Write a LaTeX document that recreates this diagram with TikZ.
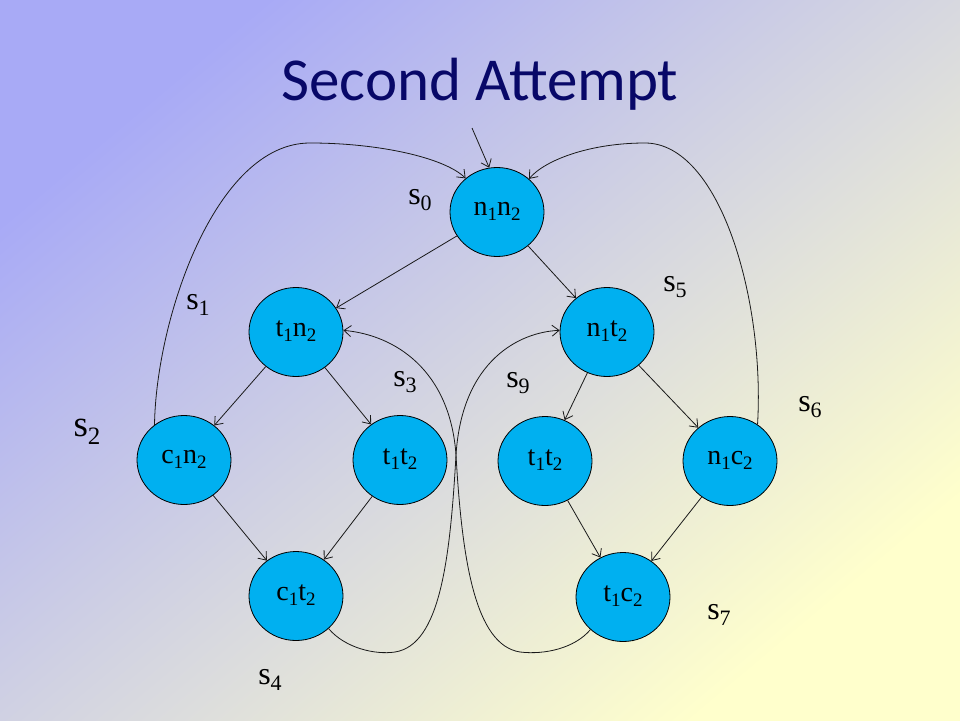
\documentclass[tikz,border=0pt]{standalone}
\usepackage{fontspec}
\setmainfont{Liberation Serif}
\newfontfamily\titlefont{Carlito}
\usetikzlibrary{shapes.geometric,arrows.meta}
\definecolor{bgA}{RGB}{168,170,246}
\definecolor{bgB}{RGB}{222,222,228}
\definecolor{bgC}{RGB}{255,255,204}
\definecolor{titlecol}{RGB}{8,8,104}
\definecolor{statefill}{RGB}{0,176,240}
\newcommand{\nsub}[1]{\raisebox{-5.5pt}{\fontsize{19}{19}\selectfont #1}}
\newcommand{\lsub}[1]{\raisebox{-6.5pt}{\fontsize{22}{22}\selectfont #1}}
\newcommand{\lsubb}[1]{\raisebox{-7.5pt}{\fontsize{25}{25}\selectfont #1}}
\tikzset{
  state/.style={ellipse, draw=black, line width=0.8pt, fill=statefill,
    minimum width=94pt, minimum height=89pt, inner sep=0pt,
    font=\fontsize{28}{28}\selectfont},
  slabel/.style={font=\fontsize{32}{32}\selectfont, inner sep=0pt},
  edge/.style={draw=black!90, line width=0.8pt,
    -{Straight Barb[length=7pt,width=11pt,line width=0.8pt]}},
}
\begin{document}
\begin{tikzpicture}[x=1pt,y=-1pt]
\shade[left color=bgA, middle color=bgB, right color=bgC, shading angle=40]
  (0,0) rectangle (960,720);
\useasboundingbox (0,0) rectangle (960,720);

\node[anchor=base, text=titlecol, font=\titlefont\fontsize{61}{61}\selectfont]
  (title) at (480,100) {Second Attempt};

\node[state] (n1n2) at (497,212) {\raisebox{7pt}{n\nsub{1}n\nsub{2}}};
\node[state] (t1n2) at (296,332) {\raisebox{7pt}{t\nsub{1}n\nsub{2}}};
\node[state] (n1t2) at (607,332) {\raisebox{7pt}{n\nsub{1}t\nsub{2}}};
\node[state] (c1n2) at (184,460) {\raisebox{7pt}{c\nsub{1}n\nsub{2}}};
\node[state] (t1t2L) at (400,460) {\raisebox{7pt}{t\nsub{1}t\nsub{2}}};
\node[state] (t1t2R) at (545,461) {\raisebox{7pt}{t\nsub{1}t\nsub{2}}};
\node[state] (n1c2) at (730,461) {\raisebox{7pt}{n\nsub{1}c\nsub{2}}};
\node[state] (c1t2) at (296,596) {\raisebox{7pt}{c\nsub{1}t\nsub{2}}};
\node[state] (t1c2) at (623,597) {\raisebox{7pt}{t\nsub{1}c\nsub{2}}};

\node[slabel] (s0) at (420,200) {s\lsub{0}};
\node[slabel] (s1) at (198,305) {s\lsub{1}};
\node[slabel, font=\fontsize{37}{37}\selectfont] (s2) at (87,432) {s\lsubb{2}};
\node[slabel] (s3) at (405,382) {s\lsub{3}};
\node[slabel] (s4) at (270,680) {s\lsub{4}};
\node[slabel] (s5) at (675,287) {s\lsub{5}};
\node[slabel] (s6) at (810,407) {s\lsub{6}};
\node[slabel] (s7) at (719,615) {s\lsub{7}};
\node[slabel] (s9) at (518,383) {s\lsub{9}};

\coordinate (init) at (472,128);
\draw[edge] (init) -- (n1n2.100);

\draw[edge] (n1n2) -- (t1n2);
\draw[edge] (n1n2) -- (n1t2);
\draw[edge] (t1n2) -- (c1n2);
\draw[edge] (t1n2) -- (t1t2L);
\draw[edge] (n1t2) -- (t1t2R);
\draw[edge] (n1t2) -- (n1c2);
\draw[edge] (c1n2) -- (c1t2);
\draw[edge] (t1t2L) -- (c1t2);
\draw[edge] (t1t2R) -- (t1c2);
\draw[edge] (n1c2) -- (t1c2);

\draw[edge] (c1n2.130) .. controls (156,320) and (215,143) .. (310,143)
  .. controls (380,143) and (445,158) .. (n1n2.133);
\draw[edge] (n1c2.53) .. controls (765,300) and (720,143) .. (645,143)
  .. controls (590,143) and (545,160) .. (n1n2.46);

\draw[edge] (c1t2.-45) .. controls (345,648) and (375,655) .. (395,652)
  .. controls (440,645) and (450,560) .. (456,455)
  .. controls (462,360) and (520,332) .. (n1t2.178);
\draw[edge] (t1c2.225) .. controls (575,648) and (545,655) .. (520,652)
  .. controls (475,645) and (462,560) .. (456,455)
  .. controls (450,370) and (395,335) .. (t1n2.2);
\end{tikzpicture}
\end{document}
